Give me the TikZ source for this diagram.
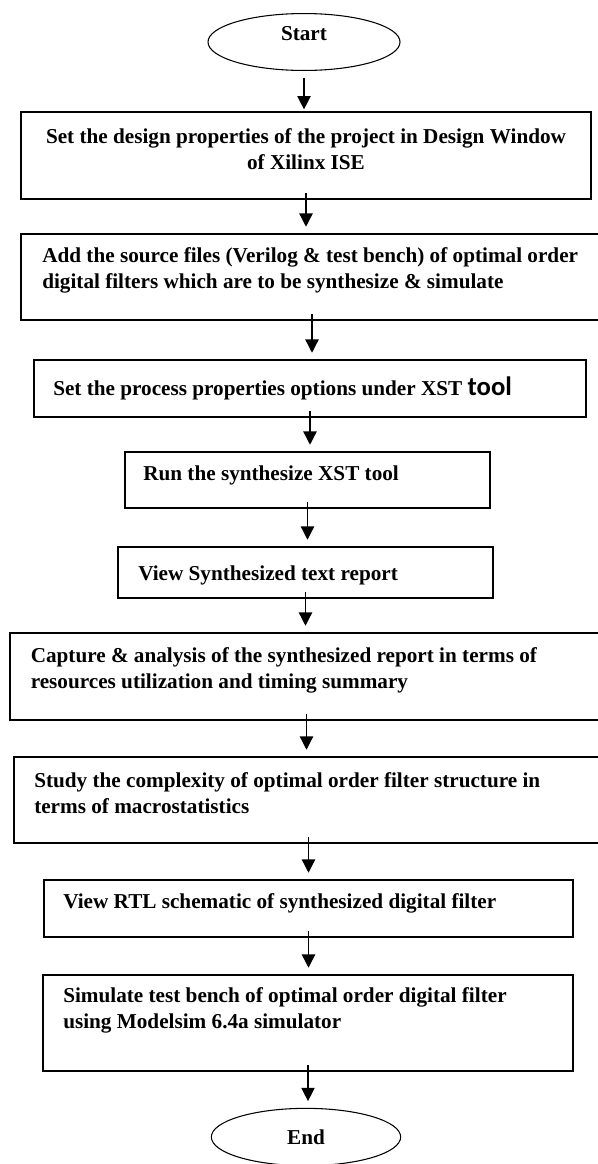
\documentclass[tikz,border=0pt]{standalone}
\usepackage{fontspec}
\setmainfont{Liberation Serif}
\newfontfamily\toolfont{Carlito}
\usetikzlibrary{arrows.meta,shapes.geometric,fit}
\newcommand{\FlowArrow}[3][]{%
  \draw[flow,#1] (#2.south) -- (#2.south |- #3.north);
}

\begin{document}
\begin{tikzpicture}[x=0.75pt,y=-0.75pt,font=\fontsize{15.9}{19.5}\selectfont\bfseries,
    stepbox/.style={draw, line width=0.9pt, inner sep=0pt},
    term/.style={draw, ellipse, line width=0.8pt, minimum width=144pt, minimum height=41pt},
    steptext/.style={inner sep=0pt, align=left, anchor=west},
    flow/.style={line width=1pt, -{Triangle[width=10pt,length=10pt]}, shorten <=-5pt, shorten >=5pt}]
    \useasboundingbox (0,0) rectangle (598,1164);
    % start / end
    \node[term] (start) at (304,42) {\raisebox{13pt}{Start}};
    \node[term, minimum width=142pt, minimum height=43pt] (stop) at (306,1137) {End};
    % boxes
    \node[stepbox, fit={(21,112) (591,199)}] (b1) {};
    \node[stepbox, fit={(21,234) (603,320)}] (b2) {};
    \node[stepbox, fit={(34,360) (586,417)}] (b3) {};
    \node[stepbox, fit={(125,452) (490,508)}] (b4) {};
    \node[stepbox, fit={(118,547) (493,598)}] (b5) {};
    \node[stepbox, fit={(10,633) (603,720)}] (b6) {};
    \node[stepbox, fit={(14,757) (603,843)}] (b7) {};
    \node[stepbox, fit={(44,880) (573,937)}] (b8) {};
    \node[stepbox, fit={(43,975) (573,1071)}] (b9) {};
    % texts
    \node[steptext, align=center, anchor=center] (t1) at (306,149.5)
      {Set the design properties of the project in Design Window\\of Xilinx ISE};
    \node[steptext] (t2) at (42,270)
      {Add the source files (Verilog \& test bench) of optimal order\\digital filters which are to be synthesize \& simulate};
    \node[steptext] (t3) at (53,388)
      {Set the process properties options under XST {\toolfont\fontsize{20}{20}\selectfont tool}};
    \node[steptext] (t4) at (143,475) {Run the synthesize XST tool};
    \node[steptext] (t5) at (138,575) {View Synthesized text report};
    \node[steptext] (t6) at (30.5,670)
      {Capture \& analysis of the synthesized report in terms of\\resources utilization and timing summary};
    \node[steptext] (t7) at (34,793.5)
      {Study the complexity of optimal order filter structure in\\terms of macrostatistics};
    \node[steptext] (t8) at (63,903) {View RTL schematic of synthesized digital filter};
    \node[steptext] (t9) at (63,1010.5)
      {Simulate test bench of optimal order digital filter\\using Modelsim 6.4a simulator};
    % arrows
    \FlowArrow[shorten <=5pt, shorten >=1.5pt]{start}{b1}
    \FlowArrow{b1}{b2}
    \FlowArrow{b2}{b3}
    \FlowArrow{b3}{b4}
    \FlowArrow{b4}{b5}
    \FlowArrow{b5}{b6}
    \FlowArrow{b6}{b7}
    \FlowArrow{b7}{b8}
    \FlowArrow{b8}{b9}
    \FlowArrow{b9}{stop}
  \end{tikzpicture}
\end{document}
